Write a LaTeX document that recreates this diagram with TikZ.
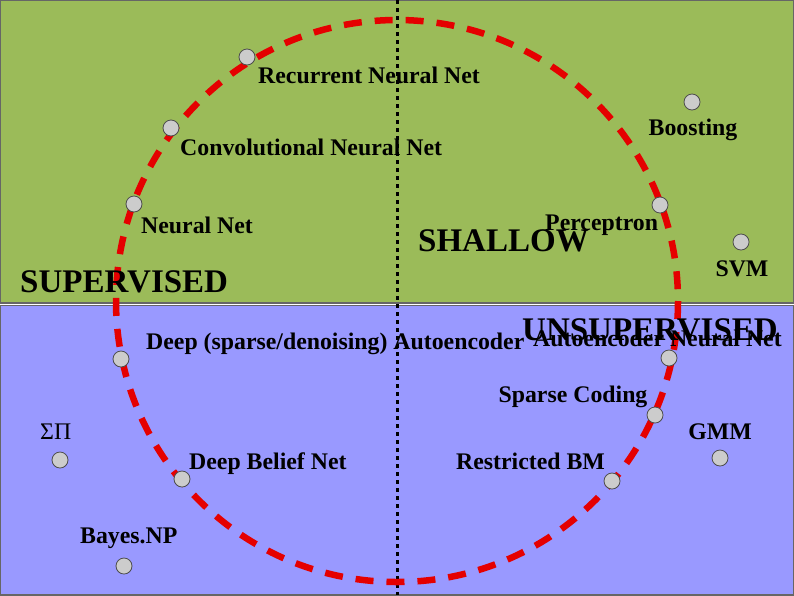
\documentclass[tikz,border=0pt]{standalone}
\usepackage{fontspec}
\setmainfont{Liberation Serif}
\begin{document}
\begin{tikzpicture}[x=1pt,y=-1pt,
  dot/.style={circle,draw=black!70,fill=black!20,line width=0.8pt,minimum size=16pt,inner sep=0pt},
  lbl/.style={inner sep=0pt,font=\fontsize{23.8}{25}\selectfont\bfseries},
  big/.style={inner sep=0pt,font=\fontsize{33}{34}\selectfont\bfseries}]
\useasboundingbox (0,0) rectangle (794,595);
\fill[draw=black!60,fill={rgb,255:red,155;green,187;blue,89}] (0,0) rectangle (794,303);
\fill[draw=black!60,fill={rgb,255:red,153;green,153;blue,255}] (0,305) rectangle (794,595);
\draw[black!60] (0.5,0.5) rectangle (793.5,302.5) (0.5,305.5) rectangle (793.5,594.5);
\draw[line width=3pt,dash pattern=on 4pt off 4pt] (397,0) -- (397,595);
\draw[red!90!black,line width=6.5pt,dash pattern=on 18pt off 13pt] (397,301) circle (281);
\foreach \n/\x/\y in {a/247/57,b/171/128,c/134/204,d/121/359,e/60/460,f/182/479,g/124/566,h/692/102,i/660/205,j/741/242,k/669/358,l/655/415,m/720/458,n/612/481}
  \node[dot] (\n) at (\x,\y) {};
\node[lbl,anchor=west] (t1) at (258,75) {Recurrent Neural Net};
\node[lbl,anchor=west] (t2) at (180,147) {Convolutional Neural Net};
\node[lbl,anchor=west] (t3) at (141,225) {Neural Net};
\node[lbl] (t4) at (693,130) {Boosting};
\node[big,anchor=west] (t5) at (418,241) {SHALLOW};
\node[lbl,anchor=west] (t6) at (545,225) {Perceptron};
\node[lbl] (t7) at (742,269) {SVM};
\node[big,anchor=west] (t8) at (20,282) {SUPERVISED};
\node[lbl,anchor=west] (t10) at (533,338) {Autoencoder Neural Net};
\node[big,anchor=west] (t9) at (522,330) {UNSUPERVISED};
\node[lbl,anchor=west] (t11) at (146,344) {Deep (sparse/denoising) Autoencoder};
\node[lbl] (t12) at (573,397) {Sparse Coding};
\node[lbl,anchor=west,font=\fontsize{23.8}{25}\selectfont] (t13) at (40,432) {ΣΠ};
\node[lbl] (t14) at (720,432) {GMM};
\node[lbl,anchor=west] (t15) at (189,464) {Deep Belief Net};
\node[lbl,anchor=west] (t16) at (456,461) {Restricted BM};
\node[lbl,anchor=west] (t17) at (80,538) {Bayes.NP};
\end{tikzpicture}
\end{document}
